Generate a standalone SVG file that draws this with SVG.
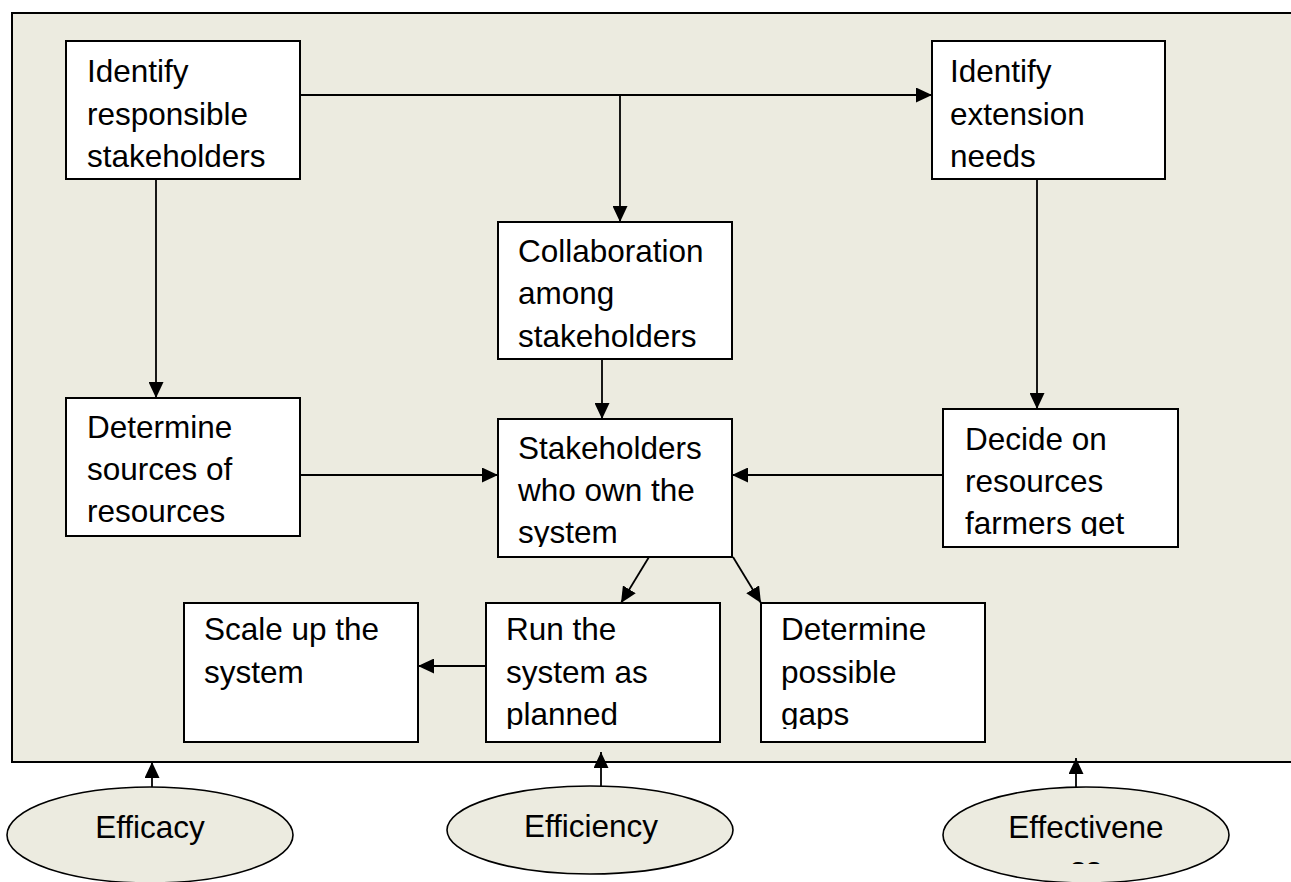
<svg xmlns="http://www.w3.org/2000/svg" width="1291" height="882" viewBox="0 0 1291 882">
  <style>
    .frame { fill: #ecebe0; stroke: #000; stroke-width: 2; }
    .box { fill: #fff; stroke: #000; stroke-width: 2; }
    .oval { fill: #ecebe0; stroke: #000; stroke-width: 1.6; }
    .lbl { font-family: "Liberation Sans", Arial, sans-serif; font-size: 31.5px; fill: #000; }
    .mid { text-anchor: middle; }
    .conn line { stroke: #000; stroke-width: 1.8; marker-end: url(#arrow); }
  </style>
  <defs>
    <marker id="arrow" markerUnits="userSpaceOnUse" markerWidth="16" markerHeight="15" refX="16" refY="7.5" orient="auto">
      <path d="M0,0 L16,7.5 L0,15 Z" fill="#000"/>
    </marker>
    <clipPath id="clipOwn"><rect x="498" y="419" width="234" height="128"/></clipPath>
    <clipPath id="clipDecide"><rect x="943" y="409" width="235" height="127"/></clipPath>
    <clipPath id="clipRun"><rect x="486" y="603" width="234" height="126"/></clipPath>
    <clipPath id="clipGaps"><rect x="761" y="603" width="224" height="126"/></clipPath>
    <clipPath id="clipEff"><rect x="940" y="862" width="300" height="2"/></clipPath>
  </defs>

  <!-- background panel -->
  <rect class="frame" x="12" y="13" width="1300" height="749"/>

  <!-- connectors -->
  <g id="connectors" class="conn">
    <line x1="300" y1="95" x2="932" y2="95"/>
    <line x1="620" y1="95" x2="620" y2="222"/>
    <line x1="156" y1="179" x2="156" y2="398"/>
    <line x1="1037" y1="179" x2="1037" y2="409"/>
    <line x1="602" y1="359" x2="602" y2="419"/>
    <line x1="300" y1="475" x2="498" y2="475"/>
    <line x1="943" y1="475" x2="732" y2="475"/>
    <line x1="649" y1="557" x2="621" y2="603"/>
    <line x1="733" y1="557" x2="761" y2="603"/>
    <line x1="486" y1="666" x2="418" y2="666"/>
    <line x1="152" y1="787" x2="152" y2="762"/>
    <line x1="601" y1="787" x2="601" y2="752"/>
    <line x1="1076" y1="787" x2="1076" y2="758"/>
  </g>

  <g id="identify-stakeholders">
    <rect class="box" x="66" y="41" width="234" height="138"/>
    <text class="lbl" x="87" y="82">Identify</text>
    <text class="lbl" x="87" y="125">responsible</text>
    <text class="lbl" x="87" y="167">stakeholders</text>
  </g>

  <g id="identify-needs">
    <rect class="box" x="932" y="41" width="233" height="138"/>
    <text class="lbl" x="950" y="82">Identify</text>
    <text class="lbl" x="950" y="125">extension</text>
    <text class="lbl" x="950" y="167">needs</text>
  </g>

  <g id="collaboration">
    <rect class="box" x="498" y="222" width="234" height="137"/>
    <text class="lbl" x="518" y="262">Collaboration</text>
    <text class="lbl" x="518" y="304">among</text>
    <text class="lbl" x="518" y="347">stakeholders</text>
  </g>

  <g id="sources">
    <rect class="box" x="66" y="398" width="234" height="138"/>
    <text class="lbl" x="87" y="438">Determine</text>
    <text class="lbl" x="87" y="480">sources of</text>
    <text class="lbl" x="87" y="522">resources</text>
  </g>

  <g id="owners">
    <rect class="box" x="498" y="419" width="234" height="138"/>
    <g clip-path="url(#clipOwn)">
      <text class="lbl" x="518" y="459">Stakeholders</text>
      <text class="lbl" x="518" y="501">who own the</text>
      <text class="lbl" x="518" y="543">system</text>
    </g>
  </g>

  <g id="decide">
    <rect class="box" x="943" y="409" width="235" height="138"/>
    <g clip-path="url(#clipDecide)">
      <text class="lbl" x="965" y="450">Decide on</text>
      <text class="lbl" x="965" y="492">resources</text>
      <text class="lbl" x="965" y="534">farmers get</text>
    </g>
  </g>

  <g id="scale-up">
    <rect class="box" x="184" y="603" width="234" height="139"/>
    <text class="lbl" x="204" y="640">Scale up the</text>
    <text class="lbl" x="204" y="683">system</text>
  </g>

  <g id="run">
    <rect class="box" x="486" y="603" width="234" height="139"/>
    <g clip-path="url(#clipRun)">
      <text class="lbl" x="506" y="640">Run the</text>
      <text class="lbl" x="506" y="683">system as</text>
      <text class="lbl" x="506" y="725">planned</text>
    </g>
  </g>

  <g id="gaps">
    <rect class="box" x="761" y="603" width="224" height="139"/>
    <g clip-path="url(#clipGaps)">
      <text class="lbl" x="781" y="640">Determine</text>
      <text class="lbl" x="781" y="683">possible</text>
      <text class="lbl" x="781" y="725">gaps</text>
    </g>
  </g>

  <g id="efficacy">
    <ellipse class="oval" cx="150" cy="835" rx="143" ry="48"/>
    <text class="lbl mid" x="150" y="838">Efficacy</text>
  </g>

  <g id="efficiency">
    <ellipse class="oval" cx="590" cy="830" rx="143" ry="44"/>
    <text class="lbl mid" x="591" y="837">Efficiency</text>
  </g>

  <g id="effectiveness">
    <ellipse class="oval" cx="1086" cy="835" rx="143" ry="48"/>
    <text class="lbl mid" x="1086" y="838">Effectivene</text>
    <text class="lbl mid" x="1086" y="879" clip-path="url(#clipEff)">ss</text>
  </g>
</svg>
